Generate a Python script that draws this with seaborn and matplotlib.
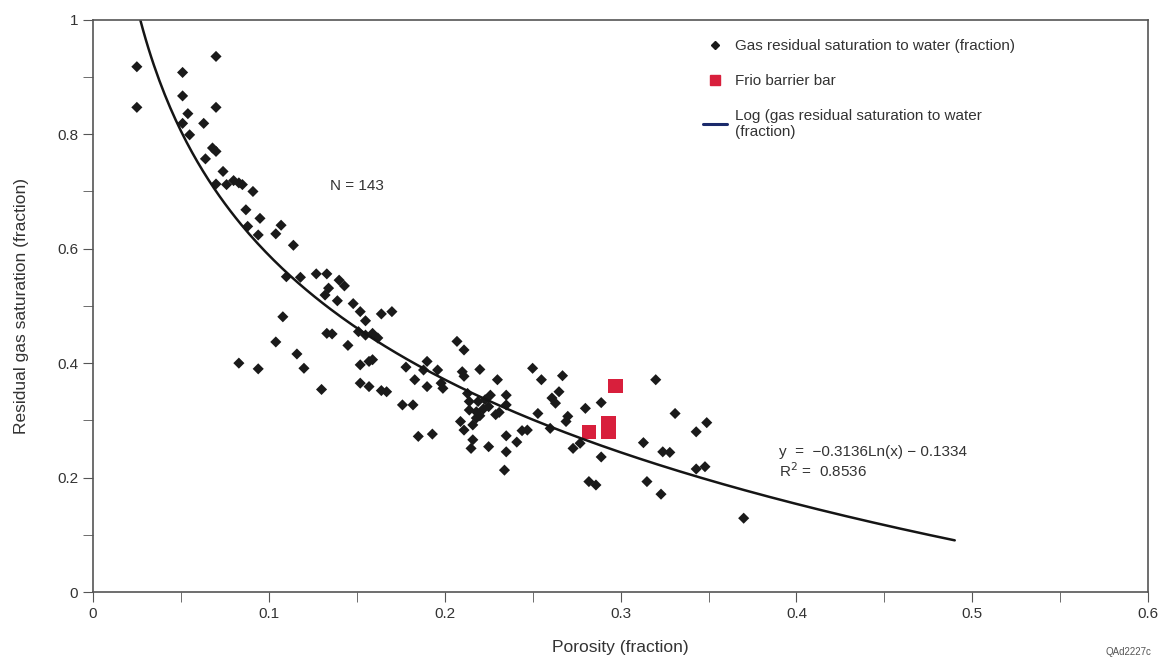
"""
Residual gas saturation vs porosity, with log trendline.
"""

import numpy as np
import pandas as pd
import matplotlib
matplotlib.use("Agg")
import matplotlib.pyplot as plt
from matplotlib.lines import Line2D
import seaborn as sns

# gas residual saturation to water (porosity, saturation)
porosity = [
    0.025, 0.025, 0.051, 0.051, 0.054, 0.051, 0.055, 0.070, 0.070, 0.063,
    0.068, 0.070, 0.064, 0.074, 0.070, 0.076, 0.080, 0.083, 0.085, 0.091,
    0.087, 0.095, 0.088, 0.094, 0.107, 0.104, 0.114, 0.110, 0.118, 0.127,
    0.133, 0.140, 0.143, 0.134, 0.132, 0.139, 0.108, 0.104, 0.133, 0.136,
    0.145, 0.116, 0.120, 0.083, 0.094, 0.130, 0.148, 0.152, 0.155, 0.164,
    0.170, 0.151, 0.155, 0.159, 0.162, 0.152, 0.157, 0.159, 0.152, 0.157,
    0.164, 0.167, 0.178, 0.183, 0.190, 0.188, 0.196, 0.190, 0.199, 0.176,
    0.182, 0.185, 0.193, 0.207, 0.211, 0.210, 0.211, 0.220, 0.230, 0.250,
    0.255, 0.267, 0.265, 0.261, 0.263, 0.213, 0.214, 0.219, 0.223, 0.226,
    0.235, 0.214, 0.218, 0.222, 0.225, 0.229, 0.218, 0.220, 0.235, 0.253,
    0.247, 0.260, 0.270, 0.269, 0.211, 0.216, 0.215, 0.225, 0.235, 0.235,
    0.234, 0.280, 0.273, 0.277, 0.282, 0.286, 0.289, 0.289, 0.320, 0.331,
    0.313, 0.324, 0.328, 0.315, 0.323, 0.343, 0.349, 0.343, 0.348, 0.370,
    0.216, 0.231, 0.209, 0.241, 0.244, 0.198,
]
saturation = [
    0.918, 0.847, 0.908, 0.867, 0.836, 0.819, 0.799, 0.936, 0.847, 0.819,
    0.776, 0.770, 0.757, 0.735, 0.713, 0.712, 0.719, 0.715, 0.712, 0.700,
    0.668, 0.653, 0.639, 0.624, 0.641, 0.626, 0.606, 0.551, 0.550, 0.556,
    0.556, 0.545, 0.535, 0.531, 0.519, 0.509, 0.481, 0.437, 0.452, 0.451,
    0.431, 0.416, 0.391, 0.400, 0.390, 0.354, 0.504, 0.490, 0.474, 0.486,
    0.490, 0.455, 0.449, 0.452, 0.444, 0.397, 0.403, 0.406, 0.365, 0.359,
    0.352, 0.350, 0.393, 0.371, 0.403, 0.388, 0.388, 0.359, 0.356, 0.327,
    0.327, 0.272, 0.276, 0.438, 0.423, 0.385, 0.377, 0.389, 0.371, 0.391,
    0.371, 0.378, 0.350, 0.339, 0.330, 0.347, 0.333, 0.333, 0.336, 0.344,
    0.344, 0.318, 0.315, 0.320, 0.324, 0.310, 0.304, 0.308, 0.327, 0.312,
    0.283, 0.286, 0.307, 0.298, 0.283, 0.266, 0.251, 0.254, 0.273, 0.245,
    0.213, 0.321, 0.251, 0.260, 0.193, 0.187, 0.331, 0.236, 0.371, 0.312,
    0.261, 0.245, 0.244, 0.193, 0.171, 0.280, 0.296, 0.215, 0.219, 0.129,
    0.292, 0.314, 0.298, 0.262, 0.282, 0.365,
]

# Frio barrier bar samples
frio_porosity = [0.297, 0.282, 0.293, 0.293]
frio_saturation = [0.360, 0.280, 0.295, 0.280]

# axis ticks
x_ticks = [0, 0.1, 0.2, 0.3, 0.4, 0.5, 0.6]
x_tick_labels = ["0", "0.1", "0.2", "0.3", "0.4", "0.5", "0.6"]
x_minor = [0.05, 0.15, 0.25, 0.35, 0.45, 0.55]
y_ticks = [0, 0.2, 0.4, 0.6, 0.8, 1]
y_tick_labels = ["0", "0.2", "0.4", "0.6", "0.8", "1"]
y_minor = [0.1, 0.3, 0.5, 0.7, 0.9]

# log trendline as printed on the chart: y = a*ln(x) + b
fit_a = -0.3136
fit_b = -0.1334
fit_r2 = 0.8536
fit_x_end = 0.49

df = pd.DataFrame({"porosity": porosity, "saturation": saturation})
frio = pd.DataFrame({"porosity": frio_porosity, "saturation": frio_saturation})

x_start = np.exp((1 - fit_b) / fit_a)
curve_x = np.linspace(x_start, fit_x_end, 300)
curve = pd.DataFrame({"porosity": curve_x, "saturation": fit_a * np.log(curve_x) + fit_b})

sns.set_style("white")
plt.rcParams["font.family"] = ["Liberation Sans", "DejaVu Sans"]

fig = plt.figure(figsize=(11.61, 6.6), dpi=100)
ax = fig.add_axes([0.080, 0.103, 0.909, 0.867])

sns.lineplot(data=curve, x="porosity", y="saturation", ax=ax,
             color="#151515", linewidth=1.8, sort=False)
sns.scatterplot(data=df, x="porosity", y="saturation", ax=ax,
                marker="D", s=32, color="#1a1a1a", edgecolor="none")
sns.scatterplot(data=frio, x="porosity", y="saturation", ax=ax,
                marker="s", s=110, color="#d81f3c", edgecolor="none")

ax.set_xlim(0, 0.6)
ax.set_ylim(0, 1)
ax.set_xticks(x_ticks, x_tick_labels)
ax.set_xticks(x_minor, minor=True)
ax.set_yticks(y_ticks, y_tick_labels)
ax.set_yticks(y_minor, minor=True)
ax.tick_params(which="both", direction="out", color="#555555", left=True, bottom=True,
               length=7, labelsize=11, labelcolor="#333333")
for side in ax.spines.values():
    side.set_color("#555555")
    side.set_linewidth(1.2)

ax.set_xlabel("Porosity (fraction)", fontsize=12.5, color="#333333", labelpad=14)
ax.set_ylabel("Residual gas saturation (fraction)", fontsize=12.5, color="#333333", labelpad=20)

ax.text(0.135, 0.71, "N = 143", fontsize=11, color="#333333", va="center")
ax.text(0.39, 0.245, "y  =  \u22120.3136Ln(x) \u2212 0.1334", fontsize=11,
        color="#333333", va="center")
ax.text(0.39, 0.212, "R$^2$ =  " + f"{fit_r2:.4f}", fontsize=11, color="#333333", va="center")

handles = [
    Line2D([], [], marker="D", color="#1a1a1a", linestyle="none", markersize=4),
    Line2D([], [], marker="s", color="#d81f3c", linestyle="none", markersize=7),
    Line2D([], [], color="#1b2a6b", linewidth=2.2),
]
labels = [
    "Gas residual saturation to water (fraction)",
    "Frio barrier bar",
    "Log (gas residual saturation to water\n(fraction)",
]
ax.legend(handles, labels, loc="upper left", bbox_to_anchor=(0.565, 0.99),
          frameon=False, fontsize=11, handlelength=1.6, labelspacing=1.35,
          handletextpad=0.5, labelcolor="#333333")

fig.text(0.992, 0.005, "QAd2227c", fontsize=7, color="#555555", ha="right", va="bottom")

fig.savefig("out.png", dpi=100)
